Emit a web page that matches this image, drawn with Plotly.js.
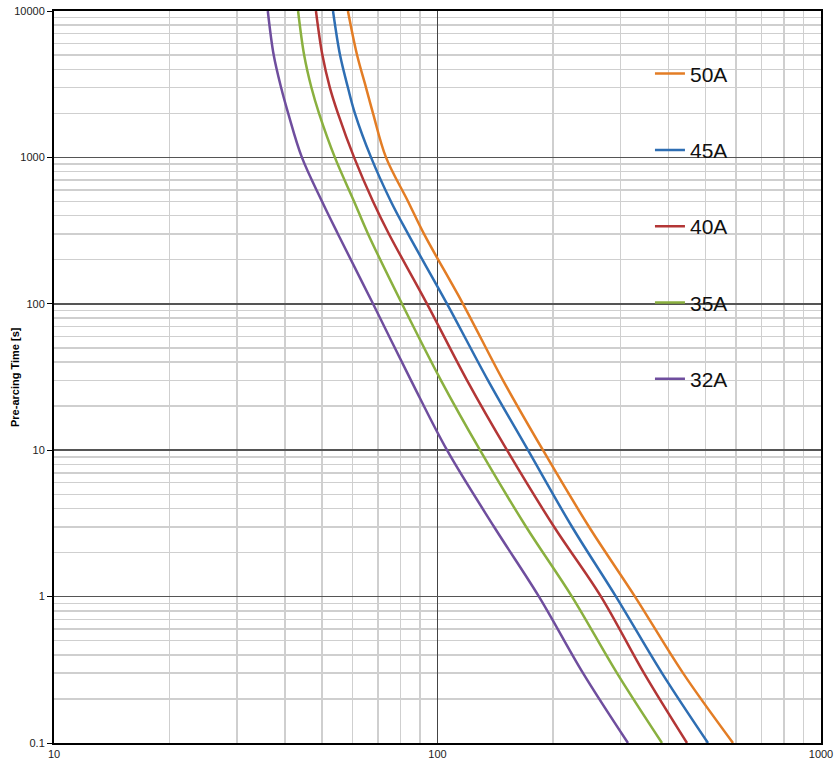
<!DOCTYPE html>
<html>
<head>
<meta charset="utf-8">
<script src="https://cdn.plot.ly/plotly-3.0.1.min.js"></script>
<style>html,body{margin:0;padding:0;background:#fff;}#chart{width:835px;height:765px;}</style>
</head>
<body>
<div id="chart"></div>
<script>
// Pre-arcing time values (s) shared by all curves
const times = [10000, 5000, 3000, 2000, 1000, 500, 300, 100, 30, 10, 3, 1, 0.3, 0.1];
// Current (A) at each time, per fuse rating
const names = ["50A", "45A", "40A", "35A", "32A"];
const cur50 = [58.4, 61.7, 65.1, 67.9, 73.4, 83.8, 92.2, 116.5, 148.2, 188.4, 248.3, 327.3, 436.8, 589.6];
const cur45 = [53.4, 55.7, 58.4, 60.9, 67.1, 75.6, 83.8, 105.9, 135.4, 172.2, 224.2, 292.0, 384.9, 507.4];
const cur40 = [48.2, 50.1, 52.4, 55.0, 60.6, 67.9, 74.7, 93.9, 119.4, 151.8, 201.3, 266.9, 345.5, 447.3];
const cur35 = [43.3, 44.9, 46.9, 49.1, 54.0, 60.6, 65.9, 80.8, 102.1, 129.1, 170.2, 224.2, 293.8, 384.9];
const cur32 = [36.1, 37.4, 39.1, 40.8, 44.3, 50.0, 55.0, 67.9, 85.3, 105.9, 140.4, 183.9, 239.6, 313.8];
const xTicks = [10, 100, 1000];
const yTicks = [0.1, 1, 10, 100, 1000, 10000];
const yTickText = ["0.1", "1", "10", "100", "1000", "10000"];
const yTitle = "Pre-arcing Time [s]";

const colors = ["#E37D25", "#2E6EB3", "#B33636", "#8AB03F", "#6F4E9E"];
const series = [cur50, cur45, cur40, cur35, cur32];

const traces = series.map((c, i) => ({
  x: c, y: times, type: "scatter", mode: "lines", name: names[i],
  legendgroup: "g" + i,
  line: {color: colors[i], width: 2.5, shape: "spline", smoothing: 1}
}));

const layout = {
  width: 835, height: 765,
  margin: {l: 54, r: 14, t: 11, b: 22},
  paper_bgcolor: "#fff", plot_bgcolor: "#fff",
  font: {family: "Liberation Sans, Arial, sans-serif", size: 11, color: "#222"},
  showlegend: true,
  legend: {
    x: 0.777, y: 0.942, xanchor: "left", yanchor: "top",
    bgcolor: "rgba(0,0,0,0)", borderwidth: 0,
    font: {size: 21, color: "#111"},
    tracegroupgap: 46, itemwidth: 30
  },
  annotations: [{
    text: yTitle, xref: "paper", yref: "paper", x: 0, y: 0.5,
    xanchor: "center", yanchor: "middle", xshift: -39, textangle: -90,
    showarrow: false,
    font: {size: 11, color: "#000", family: "Liberation Sans, Arial, sans-serif", weight: "bold"}
  }],
  xaxis: {
    type: "log", range: [1, 3],
    tickvals: xTicks, ticktext: xTicks.map(String),
    showgrid: true, gridcolor: "#444", gridwidth: 1,
    showline: true, mirror: true, linecolor: "#000", linewidth: 2,
    ticks: "", zeroline: false, fixedrange: true,
    tickfont: {size: 11, color: "#222"},
    minor: {showgrid: true, gridcolor: "#cfcfcf", gridwidth: 1.5, dtick: "D1", ticks: ""}
  },
  yaxis: {
    type: "log", range: [-1, 4],
    tickvals: yTicks, ticktext: yTickText,
    showgrid: true, gridcolor: "#555", gridwidth: 1.5,
    showline: true, mirror: true, linecolor: "#000", linewidth: 2,
    ticks: "outside", ticklen: 5, tickcolor: "#000",
    zeroline: false, fixedrange: true,
    tickfont: {size: 11, color: "#222"},
    minor: {showgrid: true, gridcolor: "#cfcfcf", gridwidth: 1.5, dtick: "D1", ticks: ""}
  }
};

Plotly.newPlot("chart", traces, layout, {displayModeBar: false, staticPlot: true});
</script>
</body>
</html>
